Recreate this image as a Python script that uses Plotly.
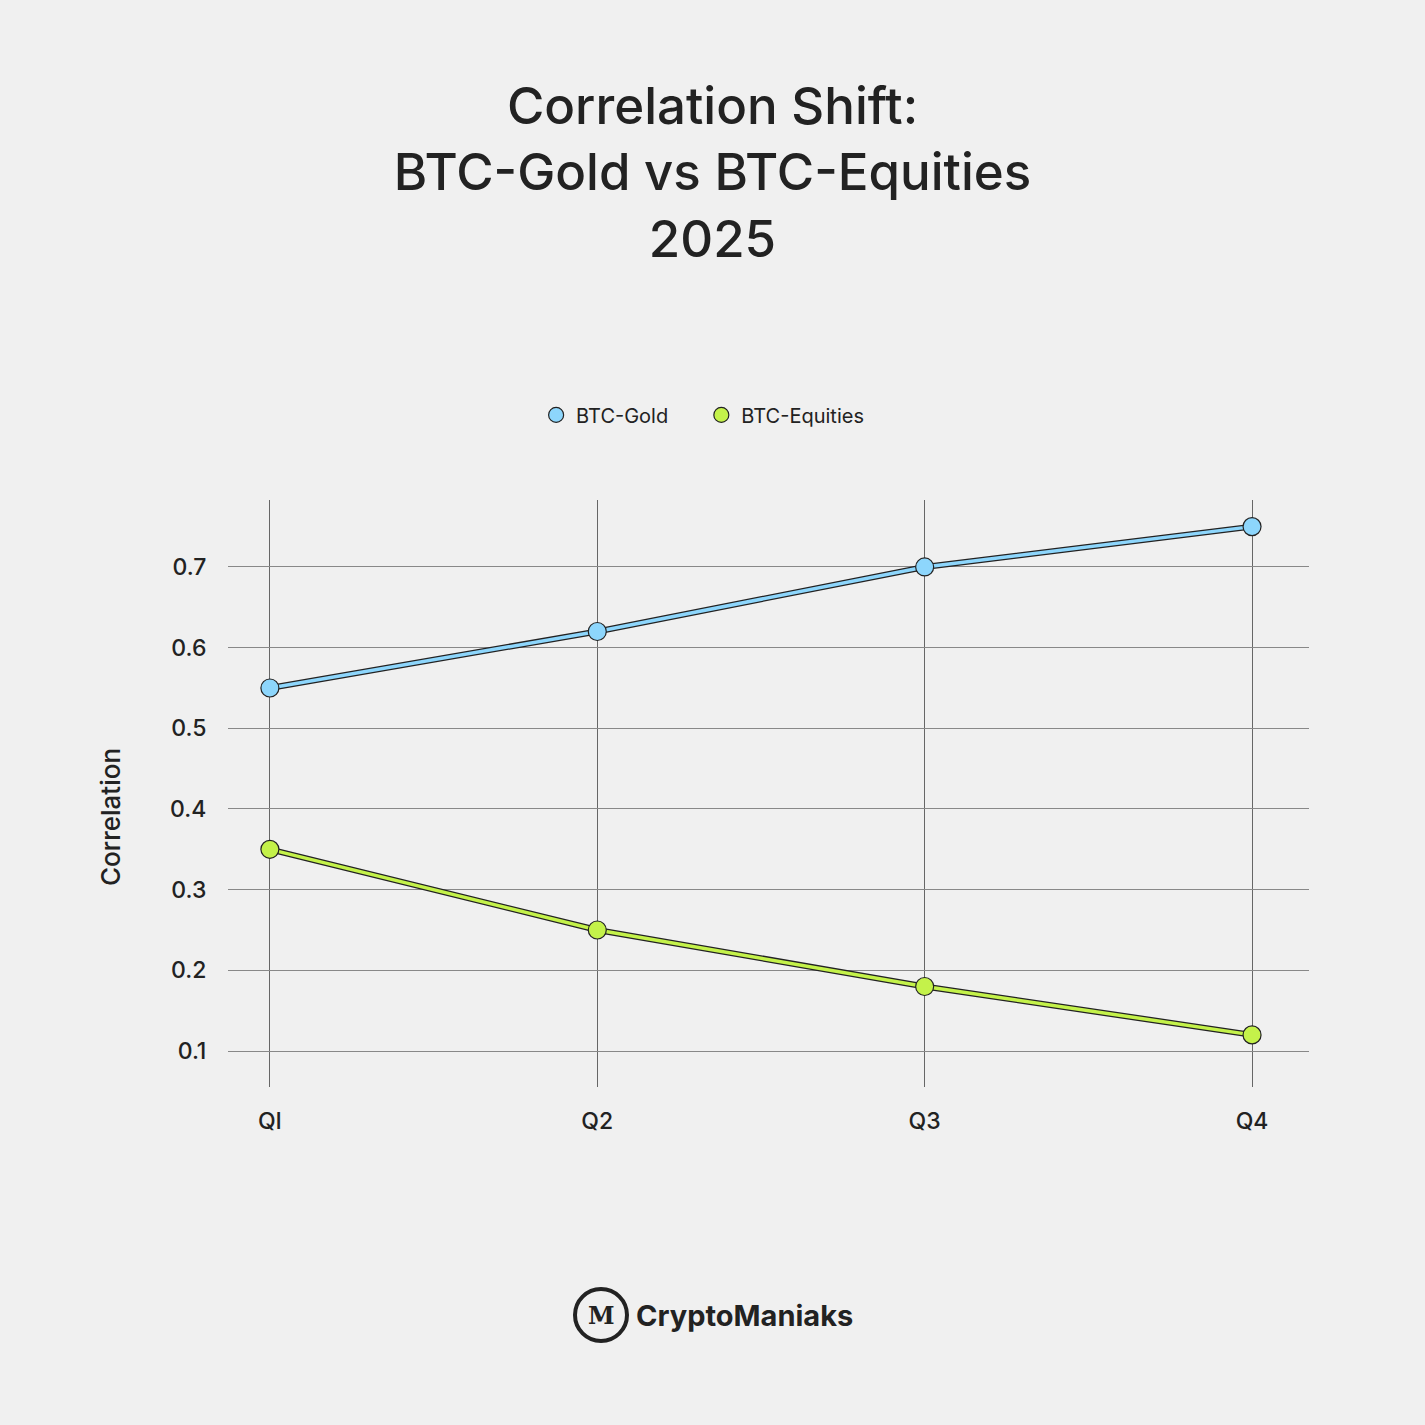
import plotly.graph_objects as go

quarters = ["QI", "Q2", "Q3", "Q4"]
btc_gold = [0.55, 0.62, 0.70, 0.75]
btc_equities = [0.35, 0.25, 0.18, 0.12]
y_ticks = [0.1, 0.2, 0.3, 0.4, 0.5, 0.6, 0.7]

FONT = "Inter, Lato, sans-serif"
DARK = "#222222"
BLUE = "#8dd6fc"
GREEN = "#c4f24a"

fig = go.Figure()
for name, vals, col in [("BTC-Gold", btc_gold, BLUE), ("BTC-Equities", btc_equities, GREEN)]:
    fig.add_trace(go.Scatter(x=quarters, y=vals, mode="lines", line=dict(color=DARK, width=6),
                             showlegend=False, hoverinfo="skip"))
    fig.add_trace(go.Scatter(x=quarters, y=vals, mode="lines+markers", name=name,
                             line=dict(color=col, width=3.5),
                             marker=dict(size=18, color=col, line=dict(color=DARK, width=1.2)),
                             showlegend=False))
    fig.add_trace(go.Scatter(x=[None], y=[None], mode="markers", name=name + "     ",
                             marker=dict(size=15, color=col, line=dict(color=DARK, width=1.2))))

fig.update_layout(
    width=1425, height=1425,
    paper_bgcolor="#f0f0f0", plot_bgcolor="#f0f0f0",
    margin=dict(l=228, r=116, t=500, b=338),
    font=dict(family=FONT, color=DARK),
    title=dict(text="Correlation Shift:<br>BTC-Gold vs BTC-Equities<br>2025",
               x=0.5, xanchor="center", y=1 - 124 / 1425, yanchor="middle",
               font=dict(size=51, color=DARK, family=FONT, weight=500)),
    legend=dict(orientation="h", x=0.452, xanchor="center", y=1.145, yanchor="middle",
                font=dict(size=20, color=DARK), bgcolor="rgba(0,0,0,0)", itemwidth=30),
    showlegend=True,
    xaxis=dict(range=[-0.128, 3.174], showgrid=True, gridcolor="#666666", gridwidth=1,
               zeroline=False, showline=False, ticks="outside", ticklen=13, tickcolor="rgba(0,0,0,0)",
               tickfont=dict(size=23, color=DARK, weight=500)),
    yaxis=dict(range=[0.0554, 0.783], tickvals=y_ticks, ticktext=[str(v) for v in y_ticks],
               showgrid=True, gridcolor="#888888", gridwidth=1, zeroline=False, showline=False,
               ticks="outside", ticklen=16, tickcolor="rgba(0,0,0,0)",
               tickfont=dict(size=23, color=DARK, weight=500)),
)

fig.add_annotation(text="Correlation", xref="paper", yref="paper",
                   x=(110 - 228) / 1081, y=(1087 - 817) / 587, showarrow=False, textangle=-90,
                   font=dict(size=26, color=DARK, family=FONT, weight=500),
                   xanchor="center", yanchor="middle")

# Logo
fig.add_shape(type="circle", xref="paper", yref="paper",
              x0=(575 - 228) / 1081, x1=(627 - 228) / 1081,
              y0=(1087 - 1341) / 587, y1=(1087 - 1289) / 587,
              line=dict(color=DARK, width=4))
fig.add_annotation(text="<b>M</b>", xref="paper", yref="paper",
                   x=(601 - 228) / 1081, y=(1087 - 1315) / 587, showarrow=False,
                   font=dict(size=24, color=DARK, family="DejaVu Serif"), xanchor="center", yanchor="middle")
fig.add_annotation(text="<b>CryptoManiaks</b>", xref="paper", yref="paper",
                   x=(634 - 228) / 1081, y=(1087 - 1315) / 587, showarrow=False,
                   font=dict(size=29, color=DARK, family=FONT), xanchor="left", yanchor="middle")

fig.write_html("out.html")
